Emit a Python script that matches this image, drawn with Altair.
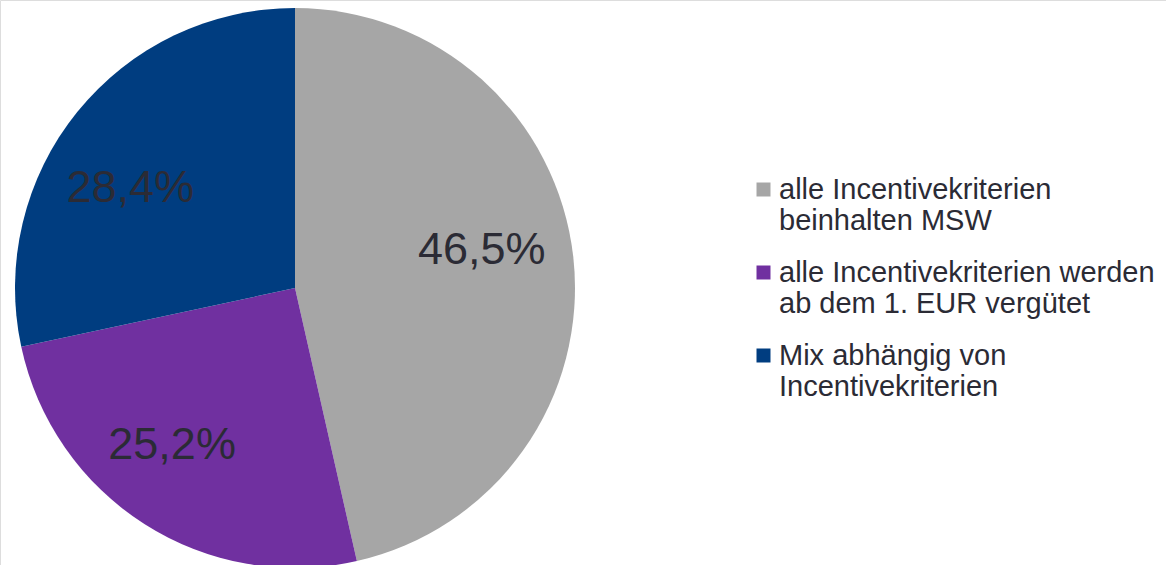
import altair as alt
import pandas as pd

categories = [
    "alle Incentivekriterien beinhalten MSW",
    "alle Incentivekriterien werden ab dem 1. EUR vergütet",
    "Mix abhängig von Incentivekriterien",
]
values = [46.5, 25.2, 28.4]
labels = ["46,5%", "25,2%", "28,4%"]
colors = ["#A6A6A6", "#7030A0", "#003D80"]
# small nudges of each slice label (px), to mimic the original placement
label_dx = [-7, -18, -13]
label_dy = [-16, -7, 23]

df = pd.DataFrame({"cat": categories, "val": values, "lab": labels, "ord": [0, 1, 2]})
total = float(sum(values))
theta_scale = alt.Scale(domain=[0, total], zero=True)

legend_expr = (
    "datum.label == 'alle Incentivekriterien beinhalten MSW' ? ['alle Incentivekriterien', 'beinhalten MSW'] : "
    "datum.label == 'alle Incentivekriterien werden ab dem 1. EUR vergütet' ? ['alle Incentivekriterien werden', 'ab dem 1. EUR vergütet'] : "
    "['Mix abhängig von', 'Incentivekriterien']"
)

pie = alt.Chart(df).mark_arc(outerRadius=280, stroke=None).encode(
    theta=alt.Theta("val:Q", stack=True, scale=theta_scale),
    order=alt.Order("ord:Q"),
    x=alt.value(295),
    y=alt.value(288),
    color=alt.Color(
        "cat:N",
        sort=categories,
        scale=alt.Scale(domain=categories, range=colors),
        legend=alt.Legend(
            title=None,
            orient="none",
            legendX=749,
            legendY=175,
            symbolType="square",
            symbolSize=196,
            symbolStrokeWidth=0,
            labelFont="Liberation Sans",
            labelFontSize=29,
            labelColor="#2B2B35",
            labelLimit=600,
            labelOffset=1,
            rowPadding=22,
            labelExpr=legend_expr,
        ),
    ),
)

text_base = (
    alt.Chart(df)
    .transform_stack(stack="val", as_=["v0", "v1"], groupby=[], sort=[alt.SortField("ord")])
    .transform_calculate(mid="(datum.v0 + datum.v1) / 2")
)

text_layers = []
for i, lab in enumerate(labels):
    text_layers.append(
        text_base.transform_filter(alt.datum.lab == lab)
        .mark_text(
            radius=195,
            fontSize=45,
            font="Liberation Sans",
            color="#2B2B35",
            dx=label_dx[i],
            dy=label_dy[i],
        )
        .encode(
            theta=alt.Theta("mid:Q", scale=theta_scale),
            x=alt.value(295),
            y=alt.value(288),
            text="lab:N",
        )
    )

chart = (
    alt.layer(pie, *text_layers)
    .properties(
        width=1166,
        height=565,
        autosize=alt.AutoSizeParams(type="none"),
        padding=0,
    )
    .configure_view(stroke=None)
    .configure(background="white")
)

chart.save("out.html", embed_options={"renderer": "svg", "actions": False})
